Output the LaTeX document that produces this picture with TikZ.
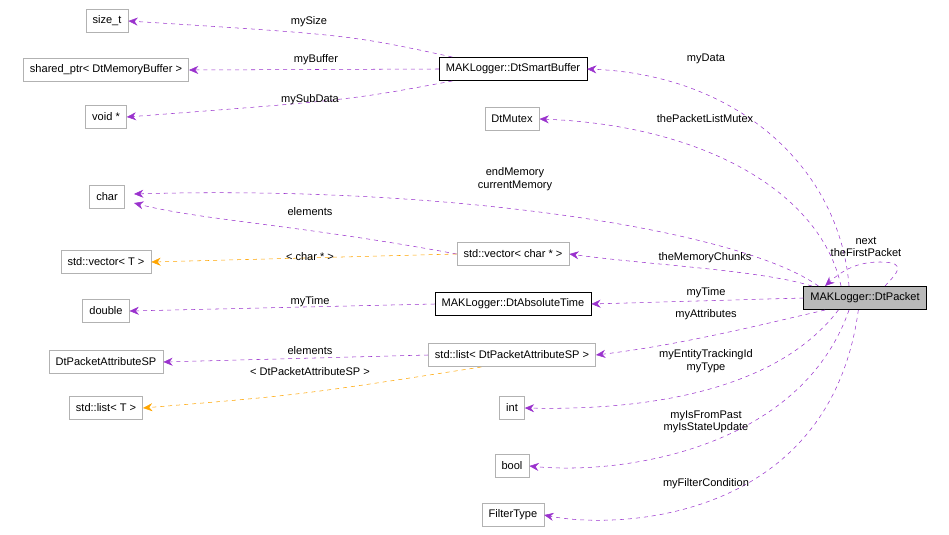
\documentclass[tikz,border=0pt]{standalone}
\usepackage{fontspec}
\setmainfont{Liberation Sans}
\usetikzlibrary{arrows.meta,positioning}
\definecolor{edgepurple}{HTML}{9A32CD}
\definecolor{edgeorange}{HTML}{FFA500}
\tikzset{
  cls/.style={draw=gray!60,fill=white,inner xsep=5pt,inner ysep=1pt,minimum height=0.62cm,font=\fontsize{8.3}{9.5}\selectfont},
  doc/.style={cls,draw=black},
  cur/.style={cls,draw=black,fill=gray!55},
  uses/.style={edgepurple,dashed,-{Stealth[length=7pt,width=6pt]}},
  inst/.style={edgeorange,dashed,-{Stealth[length=7pt,width=6pt]}},
  lbl/.style={font=\fontsize{8.3}{9.5}\selectfont,inner sep=1pt}
}
\begin{document}
\begin{tikzpicture}[x=0.0264cm,y=-0.0264cm]
  \useasboundingbox (0,0) rectangle (949,535);

  % left column
  \node[cls] (sizet) at (107,21) {size\_t};
  \node[cls] (sharedptr) at (106,70) {shared\_ptr< DtMemoryBuffer >};
  \node[cls] (voidptr) at (106,117) {void *};
  \node[cls] (char) at (107,197) {char};
  \node[cls] (vectorT) at (106,262) {std::vector< T >};
  \node[cls] (double) at (106,311) {double};
  \node[cls] (attrsp) at (106,362) {DtPacketAttributeSP};
  \node[cls] (listT) at (106,408) {std::list< T >};

  % middle column
  \node[doc] (smartbuf) at (513,69) {MAKLogger::DtSmartBuffer};
  \node[cls] (mutex) at (512,119) {DtMutex};
  \node[cls] (vectorchar) at (513,254) {std::vector< char * >};
  \node[doc] (abstime) at (513,304) {MAKLogger::DtAbsoluteTime};
  \node[cls] (listattr) at (512,355) {std::list< DtPacketAttributeSP >};
  \node[cls] (int) at (512,408) {int};
  \node[cls] (bool) at (512,466) {bool};
  \node[cls] (filter) at (513,515) {FilterType};

  % right
  \node[cur] (packet) at (865,298) {MAKLogger::DtPacket};

  % smart buffer members
  \draw[uses] ([xshift=10]smartbuf.north west) .. controls (350,35) .. (sizet.east);
  \draw[uses] (smartbuf.west) -- (sharedptr.east);
  \draw[uses] ([xshift=10]smartbuf.south west) .. controls (350,100) .. (voidptr.east);
  \node[lbl] at (309,22) {mySize};
  \node[lbl] at (316,60) {myBuffer};
  \node[lbl] at (310,100) {mySubData};

  % packet members
  \draw[uses] ([xshift=-12]packet.north) .. controls (840,170) and (740,75) .. (smartbuf.east);
  \node[lbl] at (706,59) {myData};
  \draw[uses] ([xshift=-18]packet.north) .. controls (820,190) and (700,125) .. (mutex.east);
  \node[lbl] at (705,119) {thePacketListMutex};
  \draw[uses] ([xshift=-35]packet.north) .. controls (740,230) and (450,185) .. (134,194);
  \node[lbl,align=center] at (515,179) {endMemory\\currentMemory};
  \draw[uses] (vectorchar.west) .. controls (300,225) and (200,220) .. (134,203);
  \node[lbl] at (310,212) {elements};
  \draw[inst] (vectorchar.west) -- (vectorT.east);
  \node[lbl] at (310,257) {< char * >};
  \draw[uses] ([xshift=-40]packet.north) .. controls (760,270) and (650,265) .. (vectorchar.east);
  \node[lbl] at (705,258) {theMemoryChunks};
  \draw[uses] ([xshift=15]packet.north) .. controls (895,275) and (910,262) .. (880,262)
    .. controls (860,262) and (845,268) .. ([xshift=-30]packet.north);
  \node[lbl,align=center] at (866,247) {next\\theFirstPacket};
  \draw[uses] (packet.west) -- (abstime.east);
  \node[lbl] at (706,293) {myTime};
  \draw[uses] (abstime.west) -- (double.east);
  \node[lbl] at (310,302) {myTime};
  \draw[uses] ([xshift=-30]packet.south) .. controls (760,325) and (680,345) .. (listattr.east);
  \node[lbl] at (706,315) {myAttributes};
  \draw[uses] (listattr.west) -- (attrsp.east);
  \node[lbl] at (310,351) {elements};
  \draw[inst] ([xshift=40]listattr.south west) .. controls (300,395) .. (listT.east);
  \node[lbl] at (310,372) {< DtPacketAttributeSP >};
  \draw[uses] ([xshift=-20]packet.south) .. controls (770,400) and (620,410) .. (int.east);
  \node[lbl,align=center] at (706,361) {myEntityTrackingId\\myType};
  \draw[uses] ([xshift=-12]packet.south) .. controls (800,450) and (620,475) .. (bool.east);
  \node[lbl,align=center] at (706,422) {myIsFromPast\\myIsStateUpdate};
  \draw[uses] ([xshift=-5]packet.south) .. controls (830,520) and (620,530) .. (filter.east);
  \node[lbl] at (706,484) {myFilterCondition};
\end{tikzpicture}
\end{document}
